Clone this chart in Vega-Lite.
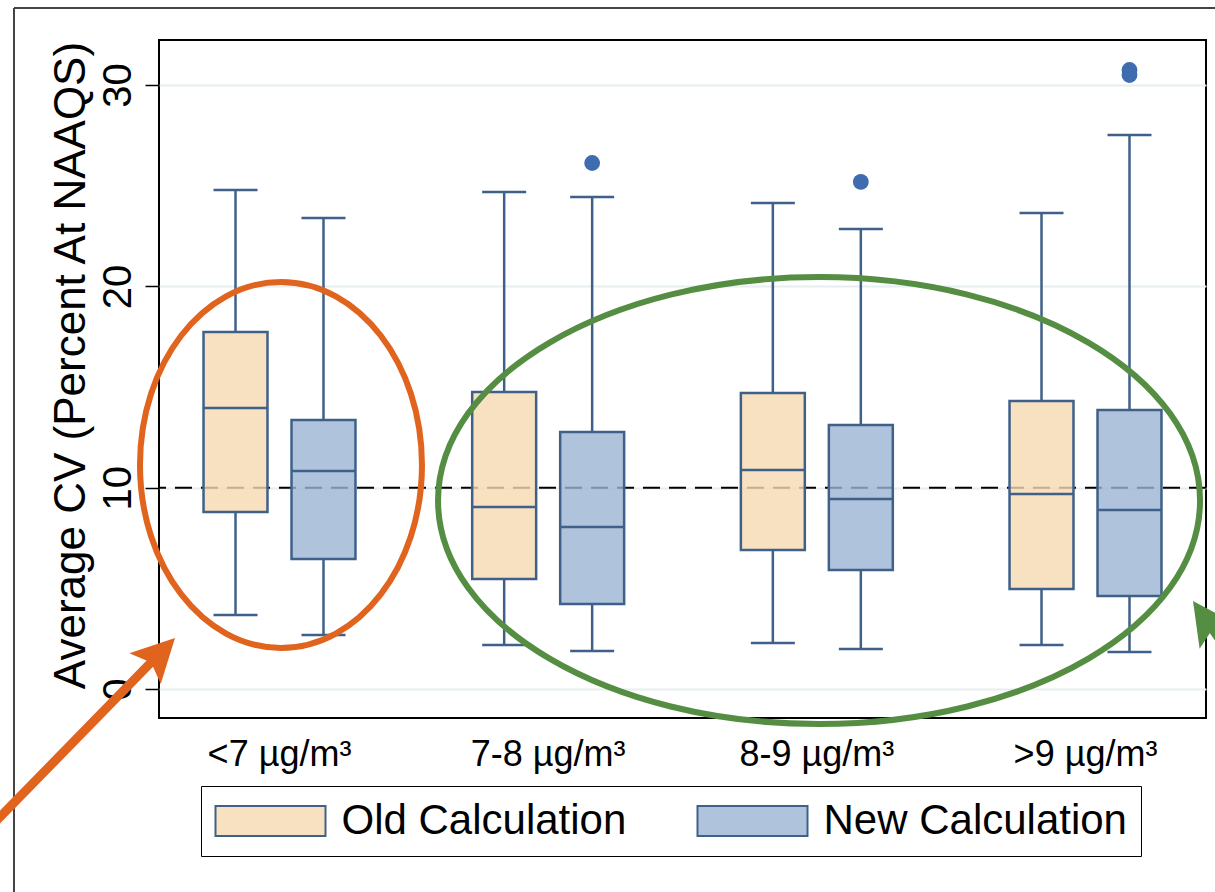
{
  "$schema": "https://vega.github.io/schema/vega-lite/v6.json",
  "width": 1047,
  "height": 678,
  "autosize": "none",
  "padding": {"left": 159, "top": 40, "right": 9, "bottom": 174},
  "background": "white",
  "config": {
    "font": "Liberation Sans",
    "view": {"stroke": "black", "strokeWidth": 2},
    "axisX": {"domain": false, "ticks": false, "tickSize": 0, "labelFontSize": 36, "labelColor": "black", "labelPadding": 47, "labelBaseline": "alphabetic", "labelAngle": 0, "labelFont": "Liberation Sans", "grid": false},
    "axisY": {
      "domain": false, "grid": true, "gridColor": "#E6EEF0", "gridWidth": 2,
      "tickSize": 14, "tickColor": "black", "tickWidth": 1.5,
      "labelAngle": -90, "labelAlign": "center", "labelBaseline": "alphabetic", "labelPadding": 15,
      "labelFontSize": 40, "labelColor": "black", "labelFont": "Liberation Sans",
      "titleFontSize": 44, "titleFontWeight": "normal", "titleColor": "black", "titleFont": "Liberation Sans",
      "titleAngle": -90, "titleX": -75, "titleY": 325, "titleAlign": "center", "titleBaseline": "alphabetic"
    }
  },
  "datasets": {
    "boxes": [
      {"group": "<7 µg/m³", "calc": "Old Calculation", "low": 3.68, "q1": 8.79, "median": 13.96, "q3": 17.73, "high": 24.79},
      {"group": "<7 µg/m³", "calc": "New Calculation", "low": 2.68, "q1": 6.46, "median": 10.83, "q3": 13.36, "high": 23.40},
      {"group": "7-8 µg/m³", "calc": "Old Calculation", "low": 2.19, "q1": 5.46, "median": 9.04, "q3": 14.75, "high": 24.69},
      {"group": "7-8 µg/m³", "calc": "New Calculation", "low": 1.89, "q1": 4.22, "median": 8.05, "q3": 12.77, "high": 24.44},
      {"group": "8-9 µg/m³", "calc": "Old Calculation", "low": 2.29, "q1": 6.91, "median": 10.88, "q3": 14.70, "high": 24.14},
      {"group": "8-9 µg/m³", "calc": "New Calculation", "low": 1.99, "q1": 5.91, "median": 9.44, "q3": 13.11, "high": 22.85},
      {"group": ">9 µg/m³", "calc": "Old Calculation", "low": 2.19, "q1": 4.97, "median": 9.69, "q3": 14.31, "high": 23.65},
      {"group": ">9 µg/m³", "calc": "New Calculation", "low": 1.84, "q1": 4.62, "median": 8.89, "q3": 13.86, "high": 27.52}
    ],
    "outliers": [
      {"group": "7-8 µg/m³", "calc": "New Calculation", "value": 26.13},
      {"group": "8-9 µg/m³", "calc": "New Calculation", "value": 25.19},
      {"group": ">9 µg/m³", "calc": "New Calculation", "value": 30.75},
      {"group": ">9 µg/m³", "calc": "New Calculation", "value": 30.50}
    ],
    "annot": [
      {"item": "frame", "x": -0.1385, "y": 33.83, "x2": 1.2, "y2": 33.83},
      {"item": "frame", "x": -0.1385, "y": 33.83, "x2": -0.1385, "y2": -11},
      {"item": "orangeEllipse", "x": 0.1165, "y": 11.13},
      {"item": "greenEllipse", "x": 0.6304, "y": 9.36},
      {"item": "orangeArrow", "x": -0.1757, "y": -7.63, "x2": -0.0048, "y2": 1.47},
      {"item": "orangeHead", "x": 0.01528, "y": 2.534},
      {"item": "greenArrow", "x": 1.0038, "y": 3.15, "x2": 1.0516, "y2": -0.40},
      {"item": "greenHead", "x": 0.9876, "y": 4.37}
    ]
  },
  "resolve": {"scale": {"x": "independent"}, "axis": {"x": "independent"}},
  "layer": [
    {
      "data": {"name": "boxes"},
      "encoding": {
        "x": {
          "field": "group", "type": "nominal",
          "scale": {"domain": ["<7 µg/m³", "7-8 µg/m³", "8-9 µg/m³", ">9 µg/m³"], "paddingInner": 0.103, "paddingOuter": 0},
          "axis": {"title": null}
        },
        "xOffset": {
          "field": "calc", "type": "nominal",
          "scale": {"domain": ["Old Calculation", "New Calculation"], "paddingInner": 0.273, "paddingOuter": 0.506}
        }
      },
      "layer": [
        {
          "data": {"values": [{}]},
          "mark": {"type": "rule", "color": "black", "strokeWidth": 2, "strokeDash": [17, 9]},
          "encoding": {
            "x": null, "xOffset": null,
            "y": {"datum": 10, "type": "quantitative", "title": "Average CV (Percent At NAAQS)", "scale": {"domain": [-1.44, 32.24], "nice": false, "zero": false},
              "axis": {"values": [0, 10, 20, 30]}}
          }
        },
        {
          "mark": {"type": "rule", "color": "#3F6189", "strokeWidth": 2.5, "opacity": 1},
          "encoding": {
            "y": {"field": "low", "type": "quantitative", "title": "Average CV (Percent At NAAQS)", "axis": {"values": [0, 10, 20, 30]}},
            "y2": {"field": "q1"}
          }
        },
        {
          "mark": {"type": "rule", "color": "#3F6189", "strokeWidth": 2.5, "opacity": 1},
          "encoding": {
            "y": {"field": "q3", "type": "quantitative", "title": "Average CV (Percent At NAAQS)", "axis": {"values": [0, 10, 20, 30]}},
            "y2": {"field": "high"}
          }
        },
        {
          "mark": {"type": "tick", "color": "#3F6189", "size": 44, "thickness": 2.5, "opacity": 1},
          "encoding": {
            "y": {"field": "low", "type": "quantitative", "title": "Average CV (Percent At NAAQS)", "axis": {"values": [0, 10, 20, 30]}}
          }
        },
        {
          "mark": {"type": "tick", "color": "#3F6189", "size": 44, "thickness": 2.5, "opacity": 1},
          "encoding": {
            "y": {"field": "high", "type": "quantitative", "title": "Average CV (Percent At NAAQS)", "axis": {"values": [0, 10, 20, 30]}}
          }
        },
        {
          "mark": {"type": "bar", "stroke": "#3F6189", "strokeWidth": 2.5, "fillOpacity": 0.8, "strokeOpacity": 1},
          "encoding": {
            "y": {"field": "q1", "type": "quantitative", "title": "Average CV (Percent At NAAQS)", "axis": {"values": [0, 10, 20, 30]}},
            "y2": {"field": "q3"},
            "fill": {
              "field": "calc", "type": "nominal",
              "scale": {"domain": ["Old Calculation", "New Calculation"], "range": ["#F5D9B1", "#9CB4D4"]},
              "legend": {
                "title": null, "orient": "none", "legendX": 42, "legendY": 746, "direction": "horizontal",
                "symbolType": "M -3.667 -1 L 3.667 -1 L 3.667 1 L -3.667 1 Z", "symbolSize": 900,
                "symbolStrokeColor": "#3F6189", "symbolStrokeWidth": 2,
                "symbolOffset": 34.5, "labelOffset": 50,
                "labelFontSize": 42, "labelColor": "black", "labelLimit": 1000, "labelFont": "Liberation Sans",
                "strokeColor": "black", "padding": 14, "columnPadding": 66,
                "encode": {"symbols": {"update": {"fillOpacity": {"value": 0.8}, "strokeWidth": {"value": 2}}}}
              }
            }
          }
        },
        {
          "mark": {"type": "tick", "color": "#3F6189", "size": 64, "thickness": 2.5, "opacity": 1},
          "encoding": {
            "y": {"field": "median", "type": "quantitative", "title": "Average CV (Percent At NAAQS)", "axis": {"values": [0, 10, 20, 30]}}
          }
        },
        {
          "data": {"name": "outliers"},
          "mark": {"type": "point", "filled": true, "shape": "circle", "size": 250, "color": "#3E6CAE", "opacity": 1},
          "encoding": {
            "y": {"field": "value", "type": "quantitative", "title": "Average CV (Percent At NAAQS)", "axis": {"values": [0, 10, 20, 30]}}
          }
        }
      ]
    },
    {
      "data": {"name": "annot"},
      "encoding": {
        "x": {"field": "x", "type": "quantitative", "scale": {"domain": [0, 1], "nice": false, "zero": false}, "axis": null},
        "y": {"field": "y", "type": "quantitative", "title": "Average CV (Percent At NAAQS)", "scale": {"domain": [-1.44, 32.24], "nice": false, "zero": false}, "axis": {"values": [0, 10, 20, 30]}}
      },
      "layer": [
        {
          "transform": [{"filter": "datum.item === 'frame'"}],
          "mark": {"type": "rule", "color": "#444444", "strokeWidth": 2, "clip": false},
          "encoding": {"x2": {"field": "x2"}, "y2": {"field": "y2"}}
        },
        {
          "transform": [{"filter": "datum.item === 'orangeEllipse'"}],
          "mark": {"type": "point", "filled": false, "stroke": "#E1641E", "strokeWidth": 6, "opacity": 1, "size": 79524, "clip": false,
            "shape": "M -1 0 C -1 -0.7169 -0.5523 -1.298 0 -1.298 C 0.5523 -1.298 1 -0.7169 1 0 C 1 0.7169 0.5523 1.298 0 1.298 C -0.5523 1.298 -1 0.7169 -1 0 Z"}
        },
        {
          "transform": [{"filter": "datum.item === 'greenEllipse'"}],
          "mark": {"type": "point", "filled": false, "stroke": "#558E42", "strokeWidth": 6, "opacity": 1, "size": 580644, "clip": false,
            "shape": "M -1 0 C -1 -0.324 -0.5523 -0.5866 0 -0.5866 C 0.5523 -0.5866 1 -0.324 1 0 C 1 0.324 0.5523 0.5866 0 0.5866 C -0.5523 0.5866 -1 0.324 -1 0 Z"}
        },
        {
          "transform": [{"filter": "datum.item === 'orangeArrow'"}],
          "mark": {"type": "rule", "color": "#E1641E", "strokeWidth": 9, "clip": false},
          "encoding": {"x2": {"field": "x2"}, "y2": {"field": "y2"}}
        },
        {
          "transform": [{"filter": "datum.item === 'orangeHead'"}],
          "mark": {"type": "point", "filled": true, "color": "#E1641E", "opacity": 1, "size": 1936, "angle": 44.35, "clip": false,
            "shape": "M 0 0 L 1 1.95 L 0 1.55 L -1 1.95 Z"}
        },
        {
          "transform": [{"filter": "datum.item === 'greenArrow'"}],
          "mark": {"type": "rule", "color": "#558E42", "strokeWidth": 9, "clip": false},
          "encoding": {"x2": {"field": "x2"}, "y2": {"field": "y2"}}
        },
        {
          "transform": [{"filter": "datum.item === 'greenHead'"}],
          "mark": {"type": "point", "filled": true, "color": "#558E42", "opacity": 1, "size": 1936, "angle": -35, "clip": false,
            "shape": "M 0 0 L 1 1.95 L 0 1.55 L -1 1.95 Z"}
        }
      ]
    }
  ]
}
